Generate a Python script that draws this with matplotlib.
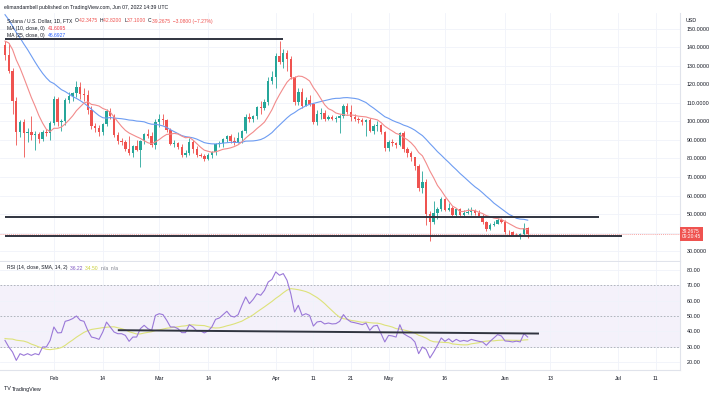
import matplotlib
matplotlib.use("Agg")
import matplotlib.pyplot as plt
import matplotlib.dates as mdates
import numpy as np
import pandas as pd

plt.rcParams['font.family'] = ['Liberation Sans', 'DejaVu Sans']

# ---------------- data ----------------
start_date = '2022-01-19'

opens = [141.0, 135.5, 127.0, 111.0, 94.5, 99.5, 93.5, 94.5, 92.5, 93.0,
         90.5, 94.5, 93.5, 99.0, 112.0, 99.5, 100.0, 111.5, 113.5, 115.5,
         118.5, 115.0, 114.0, 106.0, 97.5, 96.5, 94.5, 98.5, 105.5, 103.0,
         92.5, 89.5, 89.0, 85.0, 83.0, 86.5, 84.5, 89.5, 93.0, 92.0,
         87.0, 99.5, 101.5, 100.5, 95.5, 88.0, 88.5, 86.0, 82.0, 83.0,
         89.0, 85.0, 82.0, 81.5, 79.5, 82.0, 83.5, 88.0, 88.5, 90.5,
         92.0, 89.5, 89.0, 91.0, 95.0, 102.5, 101.0, 103.0, 107.5, 107.0,
         110.5, 121.5, 124.0, 135.0, 132.0, 137.0, 133.5, 124.0, 110.5, 116.0,
         108.5, 111.5, 109.5, 99.5, 104.0, 104.5, 101.5, 102.5, 101.5, 101.8,
         103.0, 108.5, 105.0, 102.5, 101.0, 100.5, 99.5, 100.5, 95.0, 97.5,
         98.0, 94.0, 85.5, 89.0, 88.5, 87.0, 93.5, 85.0, 83.0, 80.5,
         76.0, 64.0, 67.5, 50.0, 45.5, 50.5, 52.5, 58.0, 52.0, 53.5,
         49.5, 52.5, 49.5, 50.5, 51.0, 51.5, 50.5, 49.0, 45.5, 42.0,
         44.0, 44.8, 47.0, 45.5, 40.5, 40.2, 38.8, 38.6, 39.2, 42.3475]
highs = [143.5, 142.0, 128.5, 113.0, 100.5, 101.0, 96.5, 103.0, 95.0, 94.0,
         95.5, 96.0, 100.0, 113.5, 113.0, 101.0, 112.5, 116.0, 116.0, 122.0,
         121.0, 118.0, 117.0, 108.0, 99.0, 98.0, 99.0, 106.5, 107.0, 104.0,
         94.0, 91.0, 90.0, 92.0, 87.5, 90.0, 90.0, 93.5, 96.0, 94.0,
         101.0, 104.0, 104.0, 101.5, 96.5, 90.0, 89.0, 88.0, 84.5, 91.0,
         90.0, 86.5, 83.0, 82.5, 83.0, 84.0, 88.5, 89.5, 91.0, 92.5,
         93.0, 91.5, 94.0, 95.5, 104.0, 104.5, 103.5, 108.0, 111.0, 112.0,
         124.0, 127.0, 137.0, 143.5, 139.0, 138.5, 135.0, 124.5, 118.0, 118.0,
         113.0, 114.0, 110.0, 106.0, 107.0, 106.0, 103.5, 103.5, 103.0, 104.0,
         109.5, 110.0, 109.0, 104.0, 102.5, 102.0, 101.5, 102.0, 98.5, 100.0,
         98.5, 95.0, 90.0, 90.5, 89.0, 94.5, 95.0, 86.0, 84.0, 81.0,
         77.0, 73.0, 69.0, 51.5, 57.0, 54.0, 59.0, 58.5, 56.0, 54.5,
         53.5, 53.5, 52.0, 53.5, 54.0, 53.0, 52.0, 50.0, 46.5, 45.0,
         46.0, 48.0, 48.0, 47.0, 41.5, 41.0, 39.8, 40.0, 45.0, 42.82]
lows = [133.0, 126.0, 104.0, 87.5, 91.5, 81.0, 89.0, 90.0, 84.5, 88.5,
        89.5, 92.0, 90.0, 98.0, 97.5, 95.0, 98.0, 110.0, 111.0, 113.0,
        112.0, 111.0, 104.0, 96.0, 94.0, 92.0, 92.5, 97.5, 101.0, 91.5,
        88.0, 87.5, 84.0, 82.0, 80.5, 84.0, 75.5, 88.0, 91.0, 86.0,
        85.0, 97.0, 98.0, 94.0, 87.0, 86.0, 85.0, 80.5, 80.5, 82.0,
        83.0, 81.0, 80.5, 78.5, 79.0, 80.0, 82.0, 86.0, 86.0, 89.0,
        88.5, 87.0, 88.5, 88.5, 93.5, 99.5, 99.5, 101.0, 104.0, 106.0,
        109.0, 120.0, 118.0, 131.0, 129.0, 127.0, 123.0, 109.0, 109.0, 107.0,
        108.0, 108.0, 98.5, 98.0, 101.0, 100.0, 100.5, 100.5, 99.5, 93.5,
        102.0, 104.0, 100.0, 100.0, 99.0, 98.0, 92.0, 94.0, 93.0, 95.0,
        93.0, 84.0, 84.0, 86.5, 85.5, 86.5, 83.5, 80.5, 78.5, 74.0,
        62.5, 61.5, 44.0, 35.5, 44.5, 47.5, 51.5, 51.5, 51.5, 49.0,
        48.5, 49.0, 49.0, 50.0, 49.5, 49.5, 48.5, 44.5, 41.0, 41.5,
        43.5, 44.5, 45.0, 39.5, 38.5, 38.5, 38.0, 36.5, 38.8, 37.10]
closes = [135.5, 127.0, 111.0, 94.5, 99.5, 93.5, 94.5, 92.5, 93.0, 90.5,
          94.5, 93.5, 99.0, 112.0, 99.5, 100.0, 111.5, 113.5, 115.5, 118.5,
          115.0, 114.0, 106.0, 97.5, 96.5, 94.5, 98.5, 105.5, 103.0, 92.5,
          89.5, 89.0, 85.0, 83.0, 86.5, 84.5, 89.5, 93.0, 92.0, 87.0,
          99.5, 101.5, 100.5, 95.5, 88.0, 88.5, 86.0, 82.0, 83.0, 89.0,
          85.0, 82.0, 81.5, 79.5, 82.0, 83.5, 88.0, 88.5, 90.5, 92.0,
          89.5, 89.0, 91.0, 95.0, 102.5, 101.0, 103.0, 107.5, 107.0, 110.5,
          121.5, 124.0, 135.0, 132.0, 137.0, 133.5, 124.0, 110.5, 116.0, 108.5,
          111.5, 109.5, 99.5, 104.0, 104.5, 101.5, 102.5, 101.5, 101.8, 103.0,
          108.5, 105.0, 102.5, 101.0, 100.5, 99.5, 100.5, 95.0, 97.5, 98.0,
          94.0, 85.5, 89.0, 88.5, 87.0, 93.5, 85.0, 83.0, 80.5, 76.0,
          64.0, 67.5, 50.0, 45.5, 50.5, 52.5, 58.0, 52.0, 53.5, 49.5,
          52.5, 49.5, 50.5, 51.0, 51.5, 50.5, 49.0, 45.5, 42.0, 44.0,
          44.8, 47.0, 45.5, 40.5, 40.2, 38.8, 38.6, 39.2, 42.3475, 39.2675]
# closes before the visible range (Dec 20 2021 .. Jan 18 2022), needed by the moving averages
warmup_closes = [179.0, 193.0, 185.0, 193.0, 190.0, 193.0, 196.0, 195.0, 181.0, 172.0,
                 176.0, 170.0, 178.0, 176.0, 170.0, 167.0, 155.0, 150.0, 137.0, 141.0,
                 141.0, 137.0, 146.0, 151.0, 143.0, 145.0, 148.0, 146.0, 140.0, 141.0]

rsi = [34.0, 29.7, 26.4, 20.9, 25.3, 24.2, 25.3, 24.2, 25.3, 24.6, 29.7, 29.7, 34.0, 42.8,
       38.9, 39.1, 46.5, 47.2, 48.3, 50.0, 47.2, 46.5, 40.6, 36.2, 35.6, 34.7, 39.5, 46.0,
       42.8, 39.5, 38.4, 38.4, 37.3, 33.4, 36.2, 36.2, 41.7, 43.9, 41.7, 40.6, 50.4, 51.5,
       50.9, 47.2, 42.8, 42.8, 41.7, 39.1, 39.1, 44.3, 42.8, 40.2, 40.2, 38.9, 40.2, 42.8,
       47.8, 48.7, 50.9, 53.1, 50.0, 49.3, 50.9, 57.0, 62.5, 58.1, 60.9, 64.6, 63.6, 66.8,
       72.3, 74.0, 78.9, 76.7, 77.8, 73.4, 64.6, 52.6, 57.0, 50.4, 51.5, 50.4, 43.4, 46.1,
       46.5, 44.8, 45.4, 44.8, 45.0, 46.5, 50.9, 47.8, 46.1, 45.6, 45.0, 44.3, 45.4, 40.6,
       43.4, 43.9, 38.4, 33.0, 37.3, 36.9, 36.2, 44.3, 38.4, 36.9, 35.6, 33.0, 25.3, 29.7,
       28.1, 22.5, 26.4, 30.8, 35.6, 33.4, 35.1, 33.0, 34.7, 33.4, 34.0, 33.4, 34.7, 34.0,
       33.4, 33.0, 30.8, 33.4, 35.6, 37.8, 36.9, 33.6, 33.4, 33.0, 33.5, 33.0, 38.4, 36.22]
# RSI values before the visible range, needed by the RSI moving average
warmup_rsi = [33.0, 28.0, 31.0, 30.0, 28.0, 36.0, 41.0, 37.0, 39.0, 41.0, 40.0, 37.0, 38.0]

price_ticks = [30, 40, 50, 60, 70, 80, 90, 100, 110, 120, 130, 140, 150]
rsi_ticks = [20, 30, 40, 50, 60, 70, 80]
date_ticks = ['2022-02-01', '2022-02-14', '2022-03-01', '2022-03-14', '2022-04-01',
              '2022-04-11', '2022-04-21', '2022-05-01', '2022-05-16', '2022-06-01',
              '2022-06-13', '2022-07-01', '2022-07-11']
date_labels = ['Feb', '14', 'Mar', '14', 'Apr', '11', '21', 'May', '16', 'Jun', '13', 'Jul', '11']

# drawn trend lines (level, start date, end date)
price_lines = [(144.2, '2022-01-19', '2022-04-03'),
               (48.2, '2022-01-19', '2022-06-26'),
               (38.1, '2022-01-19', '2022-07-02')]
rsi_line = ([40.7, 38.5], ['2022-02-18', '2022-06-10'])

# ---------------- style ----------------
UP = '#26a69a'
DOWN = '#ef5350'
MA10_C = '#f28b8b'
MA25_C = '#6d9cf2'
RSI_C = '#9a78d8'
RSIMA_C = '#dde27a'
TXT = '#131722'
GRID = '#f0f3fa'
BORDER = '#e0e3eb'
LINE_C = '#30343f'

W, H = 717, 395
fig = plt.figure(figsize=(W / 100, H / 100), dpi=100)
fig.patch.set_facecolor('white')


def box(l, t, r, b):
    return [l / W, 1 - b / H, (r - l) / W, (b - t) / H]


ax = fig.add_axes(box(0, 13, 680, 261))
axr = fig.add_axes(box(0, 262, 680, 370), sharex=ax)

dates = pd.date_range(start_date, periods=len(closes), freq='D')
x = mdates.date2num(dates)
o = np.array(opens)
h = np.array(highs)
l = np.array(lows)
c = np.array(closes)

# moving averages
allc = pd.Series(warmup_closes + closes)
ma10 = allc.rolling(10).mean().to_numpy()[len(warmup_closes):]
ma25 = allc.rolling(25).mean().to_numpy()[len(warmup_closes):]
rsi_ma = pd.Series(warmup_rsi + rsi).rolling(14).mean().to_numpy()[len(warmup_rsi):]

x0 = mdates.date2num(pd.Timestamp(start_date))
ax.set_xlim(x0 - 1.33, x0 + 179.5)
ax.set_ylim(24.7, 158.4)
axr.set_ylim(14.6, 85.4)

tick_x = mdates.date2num(pd.to_datetime(date_ticks))

# grid
for a in (ax, axr):
    a.set_xticks(tick_x)
    a.grid(True, color=GRID, lw=0.6, zorder=0)
    a.set_facecolor('white')
    for s in ('left', 'top', 'bottom'):
        a.spines[s].set_visible(False)
    a.spines['right'].set_color(BORDER)
    a.spines['right'].set_linewidth(0.8)
    a.yaxis.tick_right()
    a.tick_params(axis='both', length=0, labelsize=3.9, labelcolor=TXT, pad=5)

ax.spines['bottom'].set_visible(True)
ax.spines['bottom'].set_color(BORDER)
axr.spines['bottom'].set_visible(True)
axr.spines['bottom'].set_color(BORDER)
ax.tick_params(axis='x', labelbottom=False)

ax.set_yticks(price_ticks)
# the 40 label is hidden behind the last-price marker
ax.set_yticklabels(['' if abs(v - c_last) < 4 else '%.4f' % v
                    for v, c_last in zip(price_ticks, [closes[-1]] * len(price_ticks))])
axr.set_yticks(rsi_ticks)
axr.set_yticklabels(['%.2f' % v for v in rsi_ticks])
axr.set_xticks(tick_x)
axr.set_xticklabels(date_labels)
axr.tick_params(axis='x', pad=4)

# candles
up = c >= o
cols = np.where(up, UP, DOWN)
ax.vlines(x, l, h, colors=cols, lw=0.6, zorder=3)
body = np.maximum(np.abs(c - o), 0.35)
ax.bar(x, body, bottom=np.minimum(o, c), width=0.64, color=cols, lw=0, zorder=4)

# moving averages
ax.plot(x, ma25, color=MA25_C, lw=0.8, zorder=5)
ax.plot(x, ma10, color=MA10_C, lw=0.8, zorder=5)

# last price line
ax.axhline(c[-1], color=DOWN, lw=0.5, ls=(0, (1.5, 1.5)), alpha=0.7, zorder=2)

# trend lines
for lvl, d0, d1 in price_lines:
    xs = mdates.date2num(pd.to_datetime([d0, d1]))
    ax.plot(xs, [lvl, lvl], color=LINE_C, lw=1.4, solid_capstyle='butt', zorder=6)

# price label on axis
ax.annotate('%.4f\n09:20:45' % c[-1], xy=(1.0, c[-1]), xycoords=('axes fraction', 'data'),
            xytext=(1.2, 0), textcoords='offset points', ha='left', va='center',
            fontsize=3.5, color='white', linespacing=1.1, annotation_clip=False,
            bbox=dict(boxstyle='square,pad=0.35', fc=DOWN, ec='none'), zorder=10)

# RSI pane
axr.axhspan(30, 70, color='#7e57c2', alpha=0.08, lw=0, zorder=1)
for lvl in (70, 50, 30):
    axr.axhline(lvl, color='#9598a1', lw=0.6, ls=(0, (2, 2)), alpha=0.8, zorder=2)
axr.plot(x, rsi_ma, color=RSIMA_C, lw=0.8, zorder=4)
axr.plot(x, rsi, color=RSI_C, lw=0.8, zorder=5)
rx = mdates.date2num(pd.to_datetime(rsi_line[1]))
axr.plot(rx, rsi_line[0], color=LINE_C, lw=1.4, solid_capstyle='butt', zorder=6)

# ---------------- texts ----------------
fig.canvas.draw()
renderer = fig.canvas.get_renderer()


def seg_text(x_px, y_px, parts, size=3.7):
    xp = x_px
    for s, col in parts:
        t = fig.text(xp / W, 1 - y_px / H, s, color=col, fontsize=size, ha='left', va='center')
        bb = t.get_window_extent(renderer=renderer)
        xp += bb.width


seg_text(4, 7, [('elimandambell published on TradingView.com, Jun 07, 2022 14:39 UTC', TXT)], 3.7)
seg_text(7, 21, [('Solana / U.S. Dollar, 1D, FTX  ', TXT), ('O', TXT), ('42.3475  ', DOWN),
                 ('H', TXT), ('42.8200  ', DOWN), ('L', TXT), ('37.1000  ', DOWN),
                 ('C', TXT), ('39.2675  \u22123.0800 (\u22127.27%)', DOWN)], 3.6)
seg_text(7, 28.5, [('MA (10, close, 0)  ', TXT), ('41.6095', '#f23645')], 3.6)
seg_text(7, 35.5, [('MA (25, close, 0)  ', TXT), ('46.6927', '#2962ff')], 3.6)
seg_text(7, 268, [('RSI (14, close, SMA, 14, 2)  ', TXT), ('36.22  ', '#7e57c2'),
                  ('34.50  ', '#c9cf3a'), ('n/a  n/a', '#787b86')], 3.6)
seg_text(686, 21, [('USD', TXT)], 3.9)
seg_text(4, 389, [('TV ', TXT), ('TradingView', TXT)], 3.9)

fig.savefig('out.png', dpi=100, facecolor='white')
